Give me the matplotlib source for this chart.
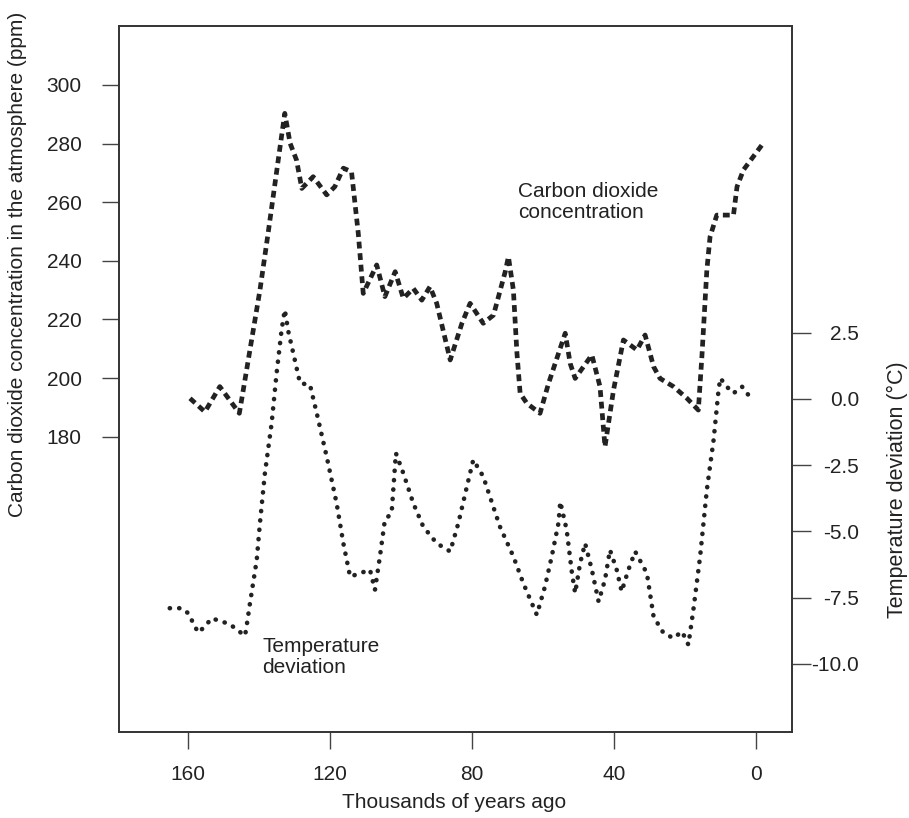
import matplotlib
matplotlib.use("Agg")
import matplotlib.pyplot as plt

plt.rcParams['font.family'] = ['Liberation Sans', 'DejaVu Sans']

# CO2 concentration (ppm) vs thousands of years ago
co2_age = [159.5, 155.3, 151.1, 145.6, 144.5, 139.8, 137.5, 134.0, 132.8, 131.3,
           129.5, 128.0, 124.8, 121.0, 118.7, 116.3, 114.0, 112.1, 110.7, 106.9,
           104.6, 101.7, 99.4, 96.6, 94.2, 91.9, 90.0, 86.2, 82.9, 80.6,
           76.9, 74.0, 70.7, 69.8, 68.4, 67.4, 66.5, 64.6, 60.9, 58.5,
           53.8, 52.4, 51.0, 46.3, 44.0, 42.6, 40.2, 37.4, 33.6, 31.3,
           28.9, 27.1, 23.3, 19.5, 16.3, 15.3, 13.9, 13.0, 11.1, 6.4,
           5.4, 3.6, -1.6]
co2_ppm = [193.1, 188.5, 197.1, 188.0, 195.9, 230.0, 249.4, 280.0, 290.3, 280.1,
           274.4, 264.7, 268.7, 262.5, 265.3, 271.6, 270.4, 249.4, 228.9, 238.6,
           227.8, 236.3, 227.2, 230.6, 226.6, 231.2, 225.5, 206.2, 218.7, 225.5,
           218.7, 221.5, 236.3, 241.4, 230.0, 208.5, 194.8, 191.4, 188.0, 198.2,
           215.3, 205.0, 199.9, 207.9, 197.1, 176.6, 195.9, 213.0, 209.6, 214.7,
           203.9, 199.9, 197.1, 193.1, 189.1, 207.3, 236.9, 248.2, 255.6, 255.6,
           265.3, 271.0, 279.5]

# Temperature deviation (deg C) vs thousands of years ago
temp_age = [165.2, 161.9, 160.0, 158.6, 157.2, 155.3, 153.4, 151.1, 148.3, 146.2,
            144.0, 143.5, 142.6, 140.7, 139.8, 138.4, 136.5, 135.1, 133.7, 132.8,
            131.8, 130.4, 128.5, 125.7, 123.8, 121.0, 118.2, 116.3, 114.4, 111.6,
            108.8, 107.4, 106.0, 104.6, 102.7, 101.5, 99.4, 96.6, 93.8, 90.0,
            86.2, 83.9, 81.5, 79.7, 76.9, 72.2, 68.4, 65.6, 62.8, 61.8,
            59.5, 57.6, 55.7, 55.2, 53.4, 51.9, 51.0, 49.6, 48.2, 46.3,
            44.4, 42.6, 41.2, 39.3, 37.9, 36.0, 34.1, 30.8, 28.9, 26.1,
            23.3, 20.9, 19.1, 17.7, 15.8, 13.9, 12.0, 10.6, 10.1, 8.3,
            6.4, 4.0, 0.8]
temp_dev = [-7.90, -7.90, -8.09, -8.46, -8.82, -8.59, -8.28, -8.38, -8.50, -8.72,
            -8.94, -8.53, -7.71, -6.08, -4.69, -2.81, -0.92, 0.97, 2.60, 3.36,
            2.54, 1.72, 0.59, 0.53, -0.54, -2.18, -3.94, -5.45, -6.71, -6.58,
            -6.45, -7.21, -5.95, -4.57, -4.31, -2.05, -2.81, -3.94, -4.82, -5.45,
            -5.76, -4.69, -3.31, -2.30, -2.93, -4.82, -5.95, -6.96, -7.84, -8.15,
            -7.08, -5.95, -4.69, -3.88, -4.94, -6.58, -7.33, -6.20, -5.45, -6.45,
            -7.65, -6.83, -5.70, -6.45, -7.27, -6.45, -5.76, -6.58, -8.22, -8.84,
            -9.03, -8.78, -9.28, -7.96, -5.95, -3.43, -1.55, 0.34, 0.78, 0.46,
            0.21, 0.46, -0.10]

x_ticks = [160, 120, 80, 40, 0]
co2_ticks = [180, 200, 220, 240, 260, 280, 300]
temp_ticks = [2.5, 0.0, -2.5, -5.0, -7.5, -10.0]

ink = '#222222'
fig = plt.figure(figsize=(9.09, 8.18), dpi=100)
ax = fig.add_axes([119/909, 1-731.7/818, (791.7-119)/909, (731.7-25.7)/818])
ax2 = ax.twinx()

ax.plot(co2_age, co2_ppm, color=ink, lw=3.4, linestyle=(0, (1.45, 1.0)),
        dash_capstyle='butt')
ax2.plot(temp_age, temp_dev, color=ink, lw=3.3, linestyle=(0, (0.05, 2.0)),
         dash_capstyle='round')

ax.set_xlim(179.5, -10.0)
ax.set_ylim(79.4, 320.2)
ax2.set_ylim(-12.56, 14.08)

ax.set_xticks(x_ticks)
ax.set_xticklabels([str(v) for v in x_ticks])
ax.set_yticks(co2_ticks)
ax.set_yticklabels([str(v) for v in co2_ticks])
ax2.set_yticks(temp_ticks)
ax2.set_yticklabels([f"{v:.1f}" for v in temp_ticks])

fs = 15
ax.tick_params(axis='x', length=12, width=1.0, pad=12, labelsize=fs, color='#444444', labelcolor=ink)
ax.tick_params(axis='y', length=12, width=1.0, pad=15, labelsize=fs, color='#444444', labelcolor=ink)
ax2.tick_params(axis='y', length=13.5, width=1.0, pad=35, labelsize=fs, color='#444444', labelcolor=ink)
for lab in ax2.get_yticklabels():
    lab.set_horizontalalignment('right')

for a in (ax, ax2):
    for s in a.spines.values():
        s.set_linewidth(1.2)
        s.set_color('#333333')

ax.text(67.1, 260.1, "Carbon dioxide\nconcentration", ha='left', va='center',
        fontsize=fs, color=ink, linespacing=1.15)
ax2.text(139.2, -9.73, "Temperature\ndeviation", ha='left', va='center',
         fontsize=fs, color=ink, linespacing=1.15)

fig.text(18/909, 1-264/818, "Carbon dioxide concentration in the atmosphere (ppm)",
         rotation=90, ha='center', va='center', fontsize=fs, color=ink)
fig.text(897/909, 1-490/818, "Temperature deviation (°C)",
         rotation=90, ha='center', va='center', fontsize=15.5, color=ink)
fig.text(454/909, 1-803/818, "Thousands of years ago",
         ha='center', va='center', fontsize=fs, color=ink)

fig.savefig("out.png", dpi=100, facecolor='white')
